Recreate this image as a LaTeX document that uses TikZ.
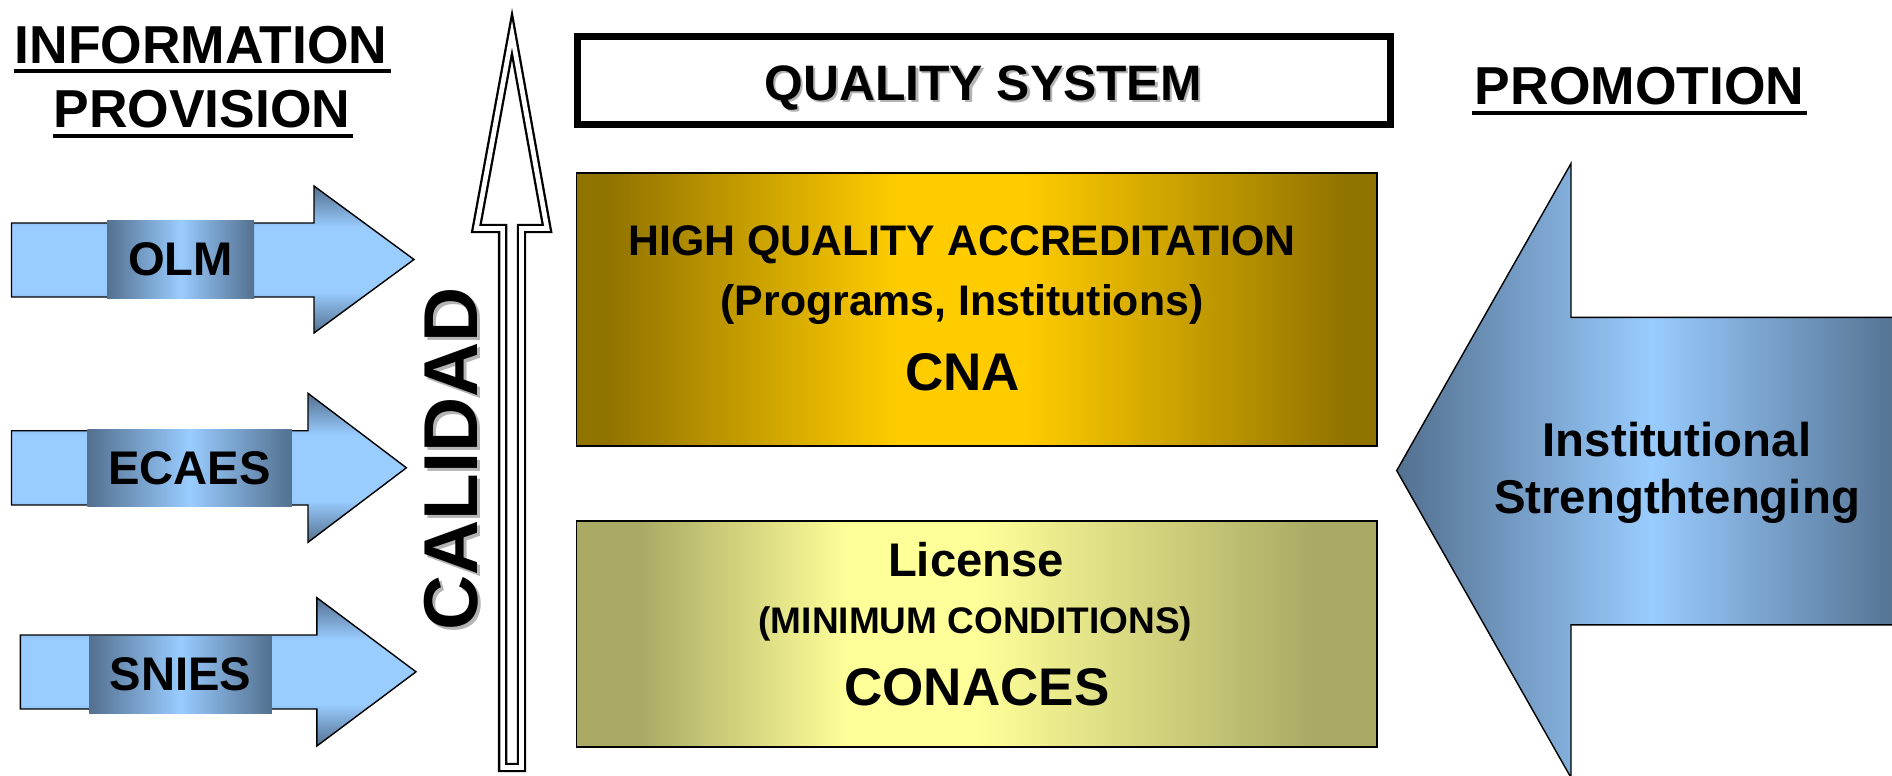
\documentclass[tikz,border=0pt]{standalone}
\usepackage{fontspec}
\setmainfont{Liberation Sans}
\usetikzlibrary{calc}

\definecolor{slate}{HTML}{53708F}
\definecolor{sky}{HTML}{99CCFF}
\definecolor{goldedge}{HTML}{917300}
\definecolor{goldmid}{HTML}{FFCC00}
\definecolor{paleedge}{HTML}{AAAA65}
\definecolor{palemid}{HTML}{FFFF99}
\definecolor{shadowgray}{HTML}{B4B4B4}

% Custom shadings; a shaded path's bounding box spans the 25bp..75bp band
\pgfdeclareverticalshading{pointerfill}{100bp}{color(0bp)=(slate); color(25bp)=(slate); color(39bp)=(sky); color(61bp)=(sky); color(75bp)=(slate); color(100bp)=(slate)}
\pgfdeclarehorizontalshading{tagfill}{100bp}{color(0bp)=(slate); color(25bp)=(slate); color(50bp)=(sky); color(75bp)=(slate); color(100bp)=(slate)}
\pgfdeclarehorizontalshading{goldfill}{100bp}{color(0bp)=(goldedge); color(27bp)=(goldedge); color(45bp)=(goldmid); color(53bp)=(goldmid); color(73bp)=(goldedge); color(100bp)=(goldedge)}
\pgfdeclarehorizontalshading{palefill}{100bp}{color(0bp)=(paleedge); color(29bp)=(paleedge); color(42bp)=(palemid); color(50bp)=(palemid); color(71bp)=(paleedge); color(100bp)=(paleedge)}

\begin{document}
\begin{tikzpicture}[x=0.5pt,y=-0.5pt,
  pointer/.style={shade, shading=pointerfill, draw=black, line width=0.7pt, line join=miter},
  tag/.style={shade, shading=tagfill, inner sep=0pt, font=\fontsize{23.6}{26}\selectfont\bfseries},
  hdr/.style={inner sep=0pt, anchor=base, font=\fontsize{26.7}{30}\selectfont\bfseries},
  uline/.style={line width=2.2pt},
  txt/.style={inner sep=0pt, anchor=base},
  big/.style={font=\fontsize{26.5}{30}\selectfont\bfseries},
  mid/.style={font=\fontsize{21.4}{24}\selectfont\bfseries},
  panel/.style={shade, draw=black, line width=0.8pt},
  ]
\fill[white] (0,0) rectangle (1892,776);
\clip (0,0) rectangle (1892,776);

% column headings
\node[hdr] (info) at (201,63) {INFORMATION};
\node[hdr] (prov) at (202,127) {PROVISION};
\node[hdr] (promo) at (1639.5,104) {PROMOTION};
\draw[uline] ([yshift=-4pt]info.base west) -- ([yshift=-4pt,xshift=1.5pt]info.base east);
\draw[uline] ([yshift=-4.5pt]prov.base west) -- ([yshift=-4.5pt,xshift=1pt]prov.base east);
\draw[uline] ([yshift=-4.6pt,xshift=-1pt]promo.base west) -- ([yshift=-4.6pt,xshift=1pt]promo.base east);

% information arrows
\path[pointer] (11.5,223) -- (314,223) -- (314,186) -- (414,259.5) -- (314,333) -- (314,297) -- (11.5,297) -- cycle;
\path[pointer] (11.5,430.7) -- (308,430.7) -- (308,393.3) -- (406.4,467.8) -- (308,542.3) -- (308,505) -- (11.5,505) -- cycle;
\path[pointer] (20.3,635) -- (316.9,635) -- (316.9,597.7) -- (416,671.8) -- (316.9,746) -- (316.9,709) -- (20.3,709) -- cycle;
\node[tag, minimum width=73.5pt, minimum height=39pt] (olm) at (180.5,259) {OLM};
\node[tag, minimum width=102.3pt, minimum height=38.7pt] (ecaes) at (189.6,468) {ECAES};
\node[tag, minimum width=91.3pt, minimum height=38.7pt] (snies) at (180.5,674.7) {SNIES};

% quality axis
\draw[line width=1.15pt, double=white, double distance=2.35pt, line join=miter, miter limit=10]
  (512,34) -- (547,228.4) -- (521.4,228.4) -- (521.4,767.4) -- (502.6,767.4) -- (502.6,228.4) -- (476.3,228.4) -- cycle;
\node[rotate=90, inner sep=0pt, text=shadowgray, font=\fontsize{38.2}{40}\selectfont\bfseries] (calshadow) at (454.5,462) {CALIDAD};
\node[rotate=90, inner sep=0pt, font=\fontsize{38.2}{40}\selectfont\bfseries] (calidad) at (451.5,459) {CALIDAD};

% quality system title
\draw[line width=3.5pt] (577.2,36.8) rectangle (1390.3,124.8);
\node[txt, text=shadowgray, font=\fontsize{24.9}{28}\selectfont\bfseries] (qsshadow) at (985.5,102.5) {QUALITY SYSTEM};
\node[txt, font=\fontsize{24.9}{28}\selectfont\bfseries] (qs) at (983,100) {QUALITY SYSTEM};

% accreditation panel
\path[panel, shading=goldfill] (576.5,172.7) rectangle (1377,445.7);
\node[txt, mid] (hqa) at (962,255) {HIGH QUALITY ACCREDITATION};
\node[txt, mid] (prog) at (962,315) {(Programs, Institutions)};
\node[txt, big] (cna) at (962.7,390) {CNA};

% license panel
\path[panel, shading=palefill] (576.5,520.7) rectangle (1377,746.7);
\node[txt, font=\fontsize{23.6}{26}\selectfont\bfseries] (lic) at (976,576) {License};
\node[txt, font=\fontsize{18.5}{21}\selectfont\bfseries] (minc) at (975.5,633) {(MINIMUM CONDITIONS)};
\node[txt, big] (conaces) at (977,705) {CONACES};

% promotion arrow
\path[shade, shading=tagfill] (1905,317.3) -- (1571,317.3) -- (1571,163.5) -- (1396.7,470.6) -- (1571,777.7) -- (1571,624.8) -- (1905,624.8) -- cycle;
\draw[line width=0.7pt, line join=miter] (1905,317.3) -- (1571,317.3) -- (1571,163.5) -- (1396.7,470.6) -- (1571,777.7) -- (1571,624.8) -- (1905,624.8);
\node[txt, font=\fontsize{23.7}{26}\selectfont\bfseries] (inst) at (1677,456.4) {Institutional};
\node[txt, font=\fontsize{23.7}{26}\selectfont\bfseries] (stren) at (1677,513) {Strengthtenging};
\end{tikzpicture}
\end{document}
